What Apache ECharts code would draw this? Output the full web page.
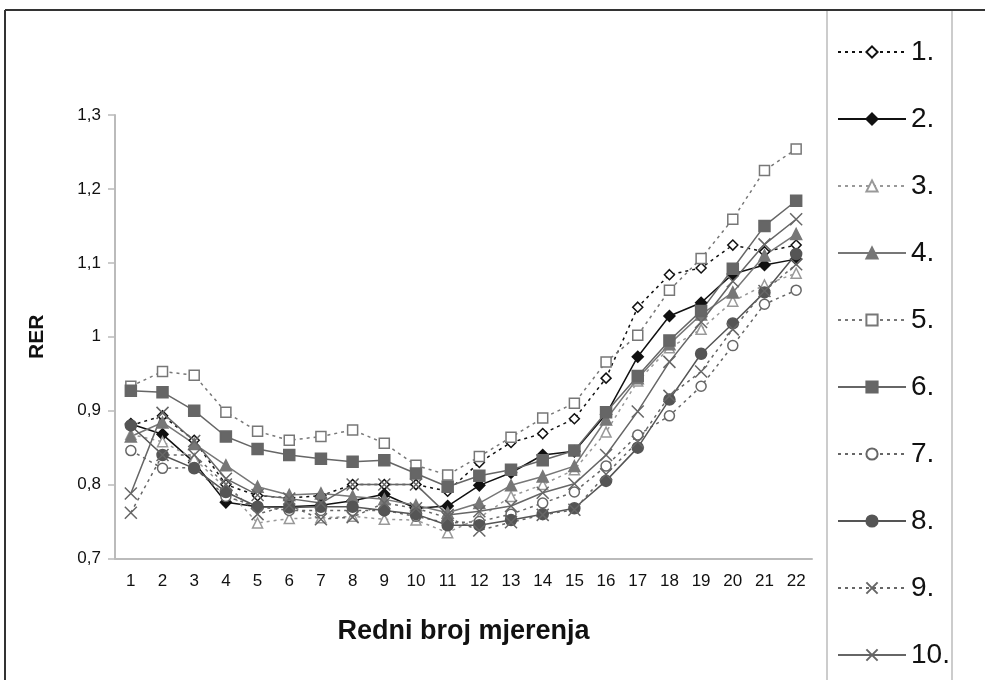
<!DOCTYPE html>
<html><head><meta charset="utf-8">
<script src="https://cdn.jsdelivr.net/npm/echarts@6/dist/echarts.min.js"></script>
<style>html,body{margin:0;padding:0;background:#fff}#c{width:985px;height:680px}</style>
</head><body><div id="c"></div>
<script>
const categories = ['1','2','3','4','5','6','7','8','9','10','11','12','13','14','15','16','17','18','19','20','21','22'];
const yTicks = ['0,7','0,8','0,9','1','1,1','1,2','1,3'];
const seriesNames = ['1.','2.','3.','4.','5.','6.','7.','8.','9.','10.'];
const s1 = [0.880,0.893,0.860,0.800,0.785,0.782,0.785,0.800,0.800,0.800,0.791,0.830,0.857,0.869,0.889,0.944,1.040,1.084,1.093,1.124,1.115,1.124];
const s2 = [0.882,0.868,0.830,0.776,0.770,0.770,0.772,0.778,0.787,0.768,0.771,0.799,0.816,0.840,0.845,0.895,0.973,1.028,1.046,1.085,1.097,1.105];
const s3 = [0.868,0.858,0.835,0.795,0.748,0.754,0.755,0.757,0.753,0.752,0.735,0.755,0.784,0.800,0.820,0.871,0.940,0.985,1.010,1.048,1.070,1.086];
const s4 = [0.865,0.884,0.855,0.826,0.797,0.786,0.788,0.784,0.780,0.772,0.762,0.775,0.799,0.811,0.825,0.888,0.944,0.990,1.030,1.060,1.110,1.139];
const s5 = [0.933,0.953,0.948,0.898,0.872,0.860,0.865,0.874,0.856,0.826,0.813,0.838,0.864,0.890,0.910,0.966,1.002,1.063,1.106,1.159,1.225,1.254];
const s6 = [0.927,0.925,0.900,0.865,0.848,0.840,0.835,0.831,0.833,0.815,0.797,0.812,0.820,0.833,0.846,0.898,0.947,0.995,1.035,1.092,1.150,1.184];
const s7 = [0.846,0.822,0.823,0.784,0.770,0.765,0.765,0.765,0.765,0.757,0.748,0.750,0.760,0.775,0.790,0.825,0.867,0.893,0.933,0.988,1.044,1.063];
const s8 = [0.880,0.840,0.822,0.790,0.770,0.769,0.770,0.770,0.765,0.760,0.745,0.745,0.752,0.760,0.768,0.805,0.850,0.915,0.977,1.018,1.060,1.112];
const s9 = [0.762,0.840,0.840,0.800,0.760,0.772,0.753,0.756,0.775,0.768,0.755,0.738,0.749,0.759,0.766,0.814,0.858,0.920,0.953,1.010,1.062,1.098];
const s10 = [0.788,0.897,0.859,0.808,0.786,0.781,0.775,0.800,0.800,0.800,0.759,0.764,0.771,0.789,0.801,0.840,0.899,0.966,1.020,1.075,1.125,1.159];

const X = 'path://M0,0L10,10M10,0L0,10';
const styles = [
  {data:s1, color:'#111', dash:[3,4], sym:'diamond', fill:'#fff', size:10},
  {data:s2, color:'#111', dash:'solid', sym:'diamond', fill:'#111', size:11},
  {data:s3, color:'#999', dash:[3,4], sym:'triangle', fill:'#fff', size:10},
  {data:s4, color:'#777', dash:'solid', sym:'triangle', fill:'#777', size:11},
  {data:s5, color:'#777', dash:[3,4], sym:'rect', fill:'#fff', size:10},
  {data:s6, color:'#666', dash:'solid', sym:'rect', fill:'#666', size:11},
  {data:s7, color:'#666', dash:[3,4], sym:'circle', fill:'#fff', size:10},
  {data:s8, color:'#555', dash:'solid', sym:'circle', fill:'#555', size:11},
  {data:s9, color:'#666', dash:[3,4], sym:X, fill:'none', size:12},
  {data:s10, color:'#666', dash:'solid', sym:X, fill:'none', size:12}
];

const series = styles.map((s,i)=>({
  name: seriesNames[i], type:'line', data:s.data, symbol:s.sym, symbolSize:s.size,
  showAllSymbol:true,
  lineStyle:{color:s.color, width:1.5, type:s.dash},
  itemStyle:{color:s.fill, borderColor:s.color, borderWidth:1.5},
  emphasis:{disabled:true}, animation:false
}));

const chart = echarts.init(document.getElementById('c'), null, {renderer:'canvas'});
chart.setOption({
  animation:false,
  backgroundColor:'#fff',
  grid:{left:115, right:173, top:115, bottom:121.5},
  xAxis:{type:'category', data:categories, boundaryGap:true,
    axisLine:{lineStyle:{color:'#bbb', width:2}},
    axisTick:{length:7, lineStyle:{color:'#bbb', width:1.5}},
    axisLabel:{color:'#111', fontSize:17, fontFamily:'Liberation Sans', margin:14},
    name:'Redni broj mjerenja', nameLocation:'middle', nameGap:60,
    nameTextStyle:{fontSize:27, fontWeight:'bold', color:'#111', fontFamily:'Liberation Sans'}},
  yAxis:{type:'value', min:0.7, max:1.3, interval:0.1,
    axisLine:{show:true, lineStyle:{color:'#bbb', width:2}},
    axisTick:{show:true, length:7, lineStyle:{color:'#bbb', width:1.5}},
    splitLine:{show:false},
    axisLabel:{color:'#111', fontSize:17, fontFamily:'Liberation Sans', margin:14,
      formatter:v=>yTicks[Math.round((v-0.7)*10)]},
    name:'RER', nameLocation:'middle', nameGap:67,
    nameTextStyle:{fontSize:21, fontWeight:'bold', color:'#111', fontFamily:'Liberation Sans'}},
  legend:{orient:'vertical', left:832, top:33, itemWidth:68, itemHeight:14, itemGap:39,
    data:seriesNames,
    textStyle:{fontSize:28, color:'#111', fontFamily:'Liberation Sans', padding:[0,0,0,0]}},
  graphic:[
    {type:'line', shape:{x1:5,y1:10,x2:985,y2:10}, style:{stroke:'#333', lineWidth:2}},
    {type:'line', shape:{x1:5,y1:10,x2:5,y2:680}, style:{stroke:'#333', lineWidth:2}},
    {type:'line', shape:{x1:827,y1:11,x2:827,y2:680}, style:{stroke:'#ccc', lineWidth:2}},
    {type:'line', shape:{x1:952,y1:11,x2:952,y2:680}, style:{stroke:'#ccc', lineWidth:2}}
  ],
  series: series
});
</script></body></html>
